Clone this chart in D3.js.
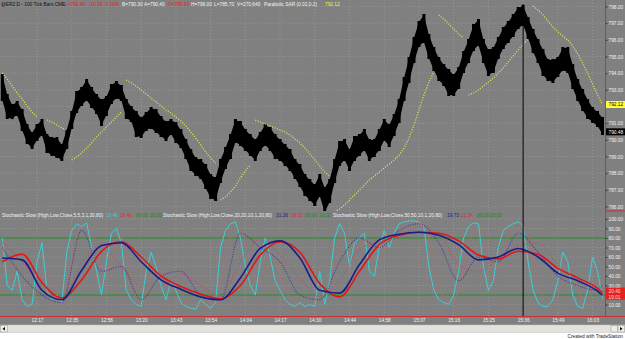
<!DOCTYPE html>
<html>
<head>
<meta charset="utf-8">
<script src="https://cdnjs.cloudflare.com/ajax/libs/d3/7.8.5/d3.min.js"></script>
<style>
  body { margin: 0; background: #fff; }
  svg { display: block; font-family: "Liberation Sans", Arial, sans-serif; }
</style>
</head>
<body>
<div id="chart"></div>
<script>
// 100 tick bars, high / low per bar
const highs = [
  793.89,792.69,792.09,792.27,791.79,790.89,790.41,790.89,791.19,790.29,
  790.11,790.11,789.69,790.59,791.67,792.87,793.11,793.59,793.11,792.69,
  792.39,792.57,793.29,793.47,793.23,792.39,791.97,791.67,791.31,791.61,
  791.91,791.79,791.37,791.07,791.19,791.01,790.59,789.99,789.39,788.91,
  788.79,788.49,787.89,787.71,788.79,789.51,790.29,791.19,791.07,790.59,
  790.29,789.99,790.41,790.89,790.71,790.29,789.99,789.69,789.39,788.79,
  788.49,787.89,787.59,787.29,787.89,787.11,787.59,788.79,789.87,789.99,
  789.39,790.17,790.29,790.59,789.99,789.99,790.59,791.19,790.89,791.49,
  792.39,793.71,794.91,796.11,797.07,797.49,796.29,795.51,794.91,794.49,
  794.19,793.89,794.31,795.27,795.99,796.89,797.19,795.99,795.39,795.51,
  796.11,796.71,797.07,797.49,797.91,798.03,797.31,796.59,795.99,795.39,
  794.79,794.79,794.91,795.51,795.51,794.49,793.59,792.99,792.39,791.91,
  791.67,791.31
];
const lows = [
  792.39,791.31,791.31,791.49,790.59,789.81,789.51,789.99,790.29,789.27,
  789.09,788.97,788.79,789.51,790.71,791.67,792.09,792.39,791.97,791.61,
  790.89,791.49,792.21,792.51,792.39,791.31,791.13,790.23,790.17,790.59,
  790.71,790.47,790.23,789.99,790.35,789.87,789.57,788.91,788.19,787.89,
  787.71,787.11,786.51,786.39,787.47,788.31,788.91,789.87,789.69,789.39,
  789.09,788.79,789.39,789.69,789.39,788.91,788.79,788.49,788.19,787.71,
  787.23,786.69,786.39,786.09,786.63,785.67,786.27,787.47,788.49,788.79,
  788.19,788.79,789.09,789.39,788.79,789.03,789.39,789.99,789.63,790.29,
  791.07,792.39,793.47,794.67,795.63,795.87,794.91,794.19,793.59,793.29,
  792.69,792.69,793.11,794.07,794.67,795.39,795.69,794.67,793.89,794.07,
  794.91,795.51,795.87,796.23,796.71,796.89,796.11,795.27,794.67,793.89,
  793.59,793.47,793.83,794.19,794.07,793.11,792.39,791.79,791.31,791.07,
  790.83,790.35
];
// Parabolic SAR (0.02,0.2)
const sar = [
  794.01,793.65,793.23,792.81,792.45,792.03,791.67,791.37,789.51,791.19,
  791.07,790.89,790.71,790.59,788.79,788.97,789.21,789.51,789.81,790.17,
  790.47,790.77,791.07,791.37,791.67,793.59,793.41,793.23,792.99,792.75,
  792.51,792.27,792.03,791.79,791.61,791.37,791.13,790.83,790.47,790.11,
  789.69,789.27,788.91,788.61,786.39,786.57,786.87,787.23,787.71,788.13,
  788.49,791.19,791.07,790.95,790.83,790.71,790.59,790.47,790.29,790.05,
  789.81,789.51,789.15,788.79,788.43,788.07,787.77,785.67,785.85,786.09,
  786.39,786.69,786.99,787.29,787.59,787.83,788.07,788.31,788.55,788.79,
  789.09,789.51,790.11,790.89,791.79,792.69,793.47,794.07,797.49,797.25,
  796.95,796.65,796.35,796.11,792.69,792.81,792.99,793.23,793.47,793.71,
  794.01,794.31,794.67,795.03,795.39,795.75,796.05,798.03,797.79,797.49,
  797.13,796.77,796.47,796.23,795.99,795.63,795.15,794.61,794.01,793.35,
  792.69,792.12
];
const lastPrice = 790.48;
// Stochastic Slow (5,5,3)
const stochFastK = [
  80,30,25,45,15,8,10,55,75,25,
  15,20,12,65,88,95,92,96,70,45,
  20,55,85,90,75,25,15,10,8,45,
  65,50,30,15,35,25,12,8,6,5,
  15,10,6,12,70,88,95,97,80,50,
  30,20,55,80,60,35,25,15,10,8,
  12,8,10,8,45,10,35,80,95,85,
  50,75,80,85,45,40,70,88,70,85,
  95,97,98,98,97,92,50,25,15,12,
  10,20,45,80,92,96,95,50,25,35,
  70,88,92,95,97,93,55,25,12,8,
  8,15,35,65,55,20,8,6,25,60,
  45,16.46
];
const stochFastD = [
  70,55,40,33,28,22,11,24,47,52,
  38,20,16,32,55,83,92,94,86,70,
  45,40,53,77,83,63,38,17,11,21,
  39,53,48,32,27,25,24,15,9,6,
  9,10,10,9,29,57,84,93,91,76,
  53,33,35,52,65,58,40,25,17,11,
  10,9,10,9,21,21,30,42,70,87,
  77,70,68,80,70,57,52,66,76,81,
  83,92,97,98,98,96,80,56,30,17,
  12,14,25,48,72,89,94,80,57,37,
  43,64,83,92,95,95,82,58,31,15,
  9,10,19,38,52,47,28,11,12,30,
  43,28.4
];
// slower stochastics, read every 4th bar
const slowBars = [0,4,8,12,16,20,24,28,32,36,40,44,48,52,56,60,64,68,72,76,80,84,88,92,96,100,104,108,112,116,120,121];
const stoch20K = [70,40,20,12,88,45,50,15,40,45,20,15,85,70,55,20,15,55,80,70,88,95,75,35,60,55,85,65,40,30,25,31.26];
const stoch20D = [75,55,30,15,55,70,50,30,30,42,30,18,55,78,62,38,18,35,68,76,80,92,85,52,45,58,72,75,52,36,26,19.01];
const stoch50K = [59,57,25,15,46,72,75,55,36,26,18,15,38,69,77,59,25,22,52,78,84,86,83,73,57,60,69,60,43,35,24,19.73];
const stoch50D = [55,63,33,17,36,66,76,60,40,29,21,16,30,62,76,65,32,18,45,73,83,86,85,77,62,58,66,63,48,38,27,22.24];

const timeBars = [7,14,21,28,35,42,49,56,63,70,77,84,91,98,105,112,119];
const timeLabels = ["12:17","12:35","12:56","13:20","13:43","13:54","14:04","14:17","14:30","14:44","14:58","15:07","15:16","15:25","15:36","15:49","16:03"];
const priceTicks = [786,787,788,789,790,791,792,793,794,795,796,797,798];
const stochTicks = [10,20,30,40,50,60,70,80,90,100];
const stochLevels = [80, 20];
const stochMarks = [20.40, 19.01];
const cursorBar = 105;

const W = 625, H = 339;
const plotRight = 605.5;
const fontSize = 4.8;
const fmt = d3.format(".2f");

const svg = d3.select("#chart").append("svg")
    .attr("width", W)
    .attr("height", H);

const x = d3.scaleLinear().domain([0, highs.length - 1]).range([2.3, 602.5]);
const yPrice = d3.scaleLinear().domain([786, 798]).range([206.5, 6.5]);
const yStoch = d3.scaleLinear().domain([0, 100]).range([314, 219]);

// background
svg.append("rect").attr("width", W).attr("height", 325).attr("fill", "#808080");
svg.append("rect").attr("y", 325).attr("width", W).attr("height", 14).attr("fill", "#ffffff");

const defs = svg.append("defs");
defs.append("clipPath").attr("id", "clipPrice")
    .append("rect").attr("x", 0).attr("y", 0).attr("width", plotRight).attr("height", 211);
defs.append("clipPath").attr("id", "clipStoch")
    .append("rect").attr("x", 0).attr("y", 212).attr("width", plotRight).attr("height", 104);

// dotted grid
const grid = svg.append("g").attr("stroke", "#a2a2a2").attr("stroke-width", 0.6).attr("stroke-dasharray", "1,2");
grid.selectAll(".hp").data(priceTicks).join("line")
    .attr("x1", 0).attr("x2", plotRight)
    .attr("y1", d => yPrice(d)).attr("y2", d => yPrice(d));
grid.selectAll(".hs").data(stochTicks).join("line")
    .attr("x1", 0).attr("x2", plotRight)
    .attr("y1", d => yStoch(d)).attr("y2", d => yStoch(d));
grid.selectAll(".vt").data(timeBars).join("line")
    .attr("x1", d => x(d)).attr("x2", d => x(d))
    .attr("y1", 0).attr("y2", 316);

// price bars
const bars = highs.map((h, i) => ({ i: i, h: h, l: lows[i], s: sar[i] }));
const pricePane = svg.append("g").attr("clip-path", "url(#clipPrice)");

const band = d3.area()
    .x(d => x(d.i))
    .y0(d => yPrice(d.l))
    .y1(d => yPrice(d.h));
pricePane.append("path").datum(bars).attr("d", band).attr("fill", "#000");
pricePane.selectAll(".bar").data(bars).join("line")
    .attr("x1", d => x(d.i)).attr("x2", d => x(d.i))
    .attr("y1", d => yPrice(d.h) - 1).attr("y2", d => yPrice(d.l) + 1)
    .attr("stroke", "#000").attr("stroke-width", 3);

// SAR, split where it flips side
let segs = [], cur = [];
bars.forEach((d, i) => {
    d.above = d.s > (d.h + d.l) / 2;
    if (i > 0 && d.above !== bars[i - 1].above) { segs.push(cur); cur = []; }
    cur.push(d);
});
segs.push(cur);
const sarLine = d3.line().x(d => x(d.i)).y(d => yPrice(d.s));
pricePane.selectAll(".sar").data(segs).join("path")
    .attr("d", sarLine)
    .attr("fill", "none")
    .attr("stroke", "#e8e84a")
    .attr("stroke-width", 1.3)
    .attr("stroke-dasharray", "1,1.6");

// stochastic pane
const stochPane = svg.append("g").attr("clip-path", "url(#clipStoch)");
stochPane.selectAll(".lvl").data(stochLevels).join("line")
    .attr("x1", 0).attr("x2", plotRight)
    .attr("y1", d => yStoch(d)).attr("y2", d => yStoch(d))
    .attr("stroke", "#218a21").attr("stroke-width", 1);

const fastLine = d3.line().x((d, i) => x(i)).y(d => yStoch(d));
const slowLine = d3.line().x((d, i) => x(slowBars[i])).y(d => yStoch(d)).curve(d3.curveMonotoneX);

stochPane.append("path").attr("d", fastLine(stochFastD))
    .attr("fill", "none").attr("stroke", "#a87272").attr("stroke-width", 0.8);
stochPane.append("path").attr("d", fastLine(stochFastK))
    .attr("fill", "none").attr("stroke", "#3ccfd4").attr("stroke-width", 1);
stochPane.append("path").attr("d", slowLine(stoch20D))
    .attr("fill", "none").attr("stroke", "#b65470").attr("stroke-width", 1.2).attr("stroke-dasharray", "1,1.4");
stochPane.append("path").attr("d", slowLine(stoch20K))
    .attr("fill", "none").attr("stroke", "#4c3c90").attr("stroke-width", 1.2).attr("stroke-dasharray", "1,1.4");
stochPane.append("path").attr("d", slowLine(stoch50D))
    .attr("fill", "none").attr("stroke", "#e21616").attr("stroke-width", 1.6);
stochPane.append("path").attr("d", slowLine(stoch50K))
    .attr("fill", "none").attr("stroke", "#1c1c86").attr("stroke-width", 1.6);

// vertical cursor line
svg.append("line")
    .attr("x1", x(cursorBar)).attr("x2", x(cursorBar))
    .attr("y1", 4).attr("y2", 316)
    .attr("stroke", "#000").attr("stroke-width", 1);

// frame lines
svg.append("line").attr("x1", plotRight).attr("x2", plotRight).attr("y1", 0).attr("y2", 317)
    .attr("stroke", "#c83232").attr("stroke-width", 1);
svg.append("line").attr("x1", plotRight).attr("x2", W).attr("y1", 211).attr("y2", 211)
    .attr("stroke", "#c83232").attr("stroke-width", 1);
svg.append("line").attr("x1", 0).attr("x2", W).attr("y1", 316.5).attr("y2", 316.5)
    .attr("stroke", "#c83232").attr("stroke-width", 1);

// axes (labels hidden by the last-value boxes are left out, as on the original)
const sarLast = sar[sar.length - 1];
const boxHalf = 3.5;
const priceLabels = priceTicks.filter(t =>
    Math.abs(yPrice(t) - yPrice(sarLast)) > boxHalf + 2 && Math.abs(yPrice(t) - yPrice(lastPrice)) > boxHalf + 2);
const stochLabels = stochTicks.filter(t => Math.abs(yStoch(t) - yStoch(stochMarks[0])) > 6);

function styleAxis(g) {
    g.select(".domain").remove();
    g.selectAll("line").attr("stroke", "#3a3a3a");
    g.selectAll("text").attr("fill", "#f2f2f2").attr("font-size", fontSize).attr("font-family", "Liberation Sans, Arial, sans-serif");
}
svg.append("g").attr("transform", `translate(${plotRight},0)`)
    .call(d3.axisRight(yPrice).tickValues(priceLabels).tickSize(2).tickPadding(1).tickFormat(fmt))
    .call(styleAxis);
svg.append("g").attr("transform", `translate(${plotRight},0)`)
    .call(d3.axisRight(yStoch).tickValues(stochLabels).tickSize(2).tickPadding(1).tickFormat(fmt))
    .call(styleAxis);
svg.append("g").attr("transform", "translate(0,317)")
    .call(d3.axisBottom(x).tickValues(timeBars).tickSize(0).tickPadding(2).tickFormat((d, i) => timeLabels[i]))
    .call(styleAxis);

// last value markers on the right axis
function valueBox(y, label, fill, color) {
    svg.append("rect").attr("x", plotRight + 0.5).attr("y", y - boxHalf).attr("width", W - plotRight).attr("height", boxHalf * 2).attr("fill", fill);
    svg.append("text").attr("x", plotRight + 3).attr("y", y).attr("dy", "0.35em")
        .attr("font-size", fontSize).attr("fill", color).text(label);
}
valueBox(yPrice(sarLast), fmt(sarLast), "#ffff33", "#000");
valueBox(yPrice(lastPrice), fmt(lastPrice), "#000", "#fff");
svg.append("rect").attr("x", plotRight + 0.5).attr("y", yStoch(stochMarks[0]) - 7).attr("width", W - plotRight).attr("height", 12).attr("fill", "#e42222");
svg.append("text").attr("x", plotRight + 3).attr("y", yStoch(stochMarks[0]) - 3.5).attr("dy", "0.35em")
    .attr("font-size", fontSize).attr("fill", "#ffd8d8").text(fmt(stochMarks[0]));
svg.append("text").attr("x", plotRight + 3).attr("y", yStoch(stochMarks[1]) + 1.5).attr("dy", "0.35em")
    .attr("font-size", fontSize).attr("fill", "#ffd8d8").text(fmt(stochMarks[1]));

// header and legend
const headerItems = [
    ["@ER2.D - 100 Tick Bars  CME", "#141414", 1],
    ["L=790.48", "#e62222", 65], ["-10.30", "#e62222", 89], ["-1.29%", "#e62222", 104],
    ["B=790.30", "#f4f4f4", 122], ["A=790.40", "#f4f4f4", 144],
    ["O=799.00", "#e62222", 168], ["H=799.00", "#f4f4f4", 191],
    ["L=785.70", "#f4f4f4", 214], ["V=270,640", "#f4f4f4", 237],
    ["Parabolic SAR (0.02,0.2)", "#f4f4f4", 264], ["792.12", "#f0f040", 325]
];
svg.append("g").selectAll("text").data(headerItems).join("text")
    .attr("x", d => d[2]).attr("y", 6)
    .attr("font-size", fontSize).attr("fill", d => d[1]).text(d => d[0]);

const legendItems = [
    ["Stochastic Slow (High,Low,Close,5,5,3,1,20,80)", "#f4f4f4", 2],
    ["16.46", "#3ccfd4", 106], ["28.40", "#e22a2a", 120], ["80.00", "#1f8a1f", 136], ["20.00", "#1f8a1f", 150],
    ["Stochastic Slow (High,Low,Close,20,20,10,1,20,80)", "#f4f4f4", 163],
    ["31.26", "#20208a", 276], ["19.01", "#e22a2a", 291], ["80.00", "#1f8a1f", 305], ["20.00", "#1f8a1f", 319],
    ["Stochastic Slow (High,Low,Close,50,50,10,1,20,80)", "#f4f4f4", 333],
    ["19.73", "#20208a", 447], ["22.24", "#e22a2a", 461], ["80.00", "#1f8a1f", 477], ["20.00", "#1f8a1f", 490]
];
svg.append("g").selectAll("text").data(legendItems).join("text")
    .attr("x", d => d[2]).attr("y", 217)
    .attr("font-size", fontSize).attr("fill", d => d[1]).text(d => d[0]);

// scroll bar and footer
svg.append("rect").attr("x", 0).attr("y", 325).attr("width", W).attr("height", 7.5)
    .attr("fill", "#e4e2dc").attr("stroke", "#c4c2bc").attr("stroke-width", 0.5);
svg.append("rect").attr("x", 0.5).attr("y", 325.5).attr("width", 7).attr("height", 6.5)
    .attr("fill", "#eeece6").attr("stroke", "#9a9890").attr("stroke-width", 0.5);
svg.append("path").attr("d", "M2.5,328.75 L5,327 L5,330.5 Z").attr("fill", "#000");
svg.append("rect").attr("x", 611).attr("y", 325.5).attr("width", 6.5).attr("height", 6.5)
    .attr("fill", "#eeece6").attr("stroke", "#9a9890").attr("stroke-width", 0.5);
svg.append("rect").attr("x", 618).attr("y", 325.5).attr("width", 6.5).attr("height", 6.5)
    .attr("fill", "#eeece6").attr("stroke", "#9a9890").attr("stroke-width", 0.5);
svg.append("path").attr("d", "M620,327 L622.5,328.75 L620,330.5 Z").attr("fill", "#000");
svg.append("text").attr("x", 623).attr("y", 338).attr("text-anchor", "end")
    .attr("font-size", fontSize).attr("fill", "#222").text("Created with TradeStation");
</script>
</body>
</html>
